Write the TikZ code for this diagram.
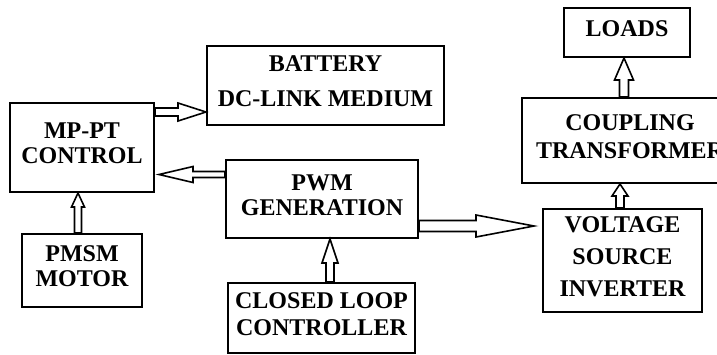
\documentclass[tikz,border=0pt]{standalone}
\usepackage{fontspec}
\setmainfont{Liberation Serif}
\usetikzlibrary{calc}

% hollow block arrow: shaft half width, head half width, head length, from, to
\newcommand{\blockarrow}[5]{%
  \coordinate (hb) at ($(#5)!#3!(#4)$);
  \draw[flow] ($(#4)!#1!90:(#5)$) -- ($(hb)!#1!-90:(#4)$) -- ($(hb)!#2!-90:(#4)$)
    -- (#5) -- ($(hb)!#2!90:(#4)$) -- ($(hb)!#1!90:(#4)$) -- ($(#4)!#1!-90:(#5)$) -- cycle;}

\begin{document}
\begin{tikzpicture}[x=1pt, y=-1pt,
    box/.style={draw, line width=2pt, align=center, inner sep=0pt, text depth=8pt,
                font=\fontsize{24}{25}\selectfont\bfseries},
    flow/.style={draw, line width=1.6pt, fill=white, line join=miter},
  ]
    \clip (0,0) rectangle (717,354);
    % blocks
    \node[box, minimum width=144pt, minimum height=89pt] (ctrl) at (82,147.5) {MP-PT\\CONTROL};
    \node[box, minimum width=237pt, minimum height=79pt,
          font=\fontsize{24}{35}\selectfont\bfseries] (batt) at (325.5,85.5) {BATTERY\\DC-LINK MEDIUM};
    \node[box, minimum width=192pt, minimum height=78pt] (pwm) at (322,199) {PWM\\GENERATION};
    \node[box, minimum width=120pt, minimum height=73pt] (pmsm) at (82,270.5) {PMSM\\MOTOR};
    \node[box, minimum width=187pt, minimum height=70pt,
          font=\fontsize{24}{27}\selectfont\bfseries] (clc) at (321.5,318) {CLOSED LOOP\\CONTROLLER};
    \node[box, minimum width=159pt, minimum height=103pt,
          font=\fontsize{24}{32}\selectfont\bfseries] (vsi) at (622.5,260.5) {VOLTAGE\\SOURCE\\INVERTER};
    \node[box, minimum width=216pt, minimum height=85pt,
          font=\fontsize{24}{28}\selectfont\bfseries] (coup) at (630,140.5) {COUPLING\\TRANSFORMER};
    \node[box, minimum width=126pt, minimum height=49pt] (loads) at (627,32.5) {LOADS};
    % arrows
    \coordinate (t1) at ([yshift=-26.5pt]batt.west);
    \blockarrow{4pt}{9pt}{28pt}{ctrl.east |- t1}{t1}
    \coordinate (s2) at ([yshift=24.5pt]pwm.west);
    \coordinate (t2) at ([xshift=4pt]ctrl.east |- s2);
    \blockarrow{3pt}{8pt}{34pt}{s2}{t2}
    \coordinate (s3) at ([xshift=-4pt]pmsm.north);
    \blockarrow{3.5pt}{6.5pt}{14pt}{s3}{ctrl.south -| s3}
    \coordinate (s4) at ([xshift=8.5pt]clc.north);
    \blockarrow{4pt}{8pt}{24pt}{s4}{pwm.south -| s4}
    \coordinate (s5) at ([yshift=-27pt]pwm.east);
    \coordinate (t5) at ([xshift=-8pt]vsi.west |- s5);
    \blockarrow{5.5pt}{11pt}{58pt}{s5}{t5}
    \coordinate (s6) at ([xshift=-2.5pt]vsi.north);
    \blockarrow{4pt}{8pt}{12pt}{s6}{coup.south -| s6}
    \coordinate (s7) at ([xshift=-3pt]loads.south |- coup.north);
    \blockarrow{4.5pt}{9.5pt}{22pt}{s7}{loads.south -| s7}
\end{tikzpicture}
\end{document}
